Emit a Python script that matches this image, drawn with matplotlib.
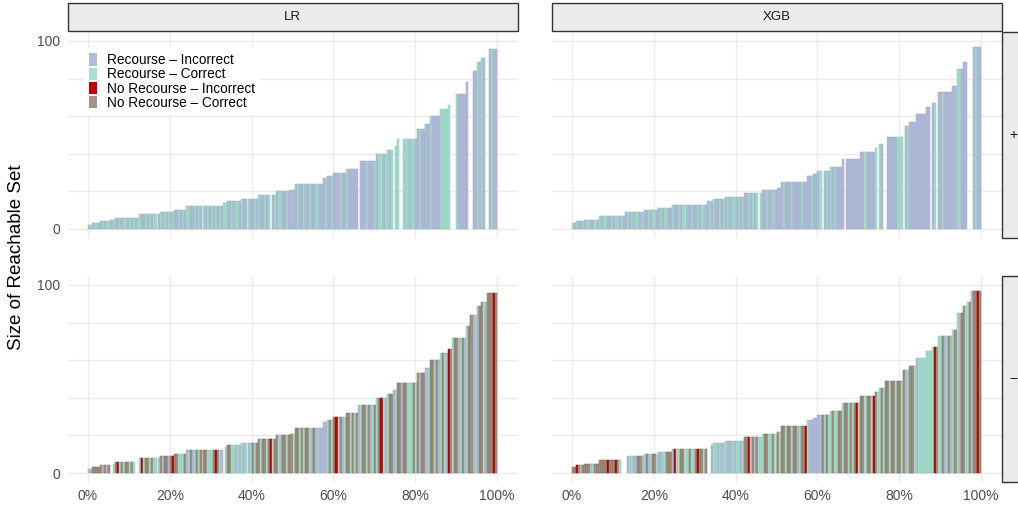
import numpy as np
import matplotlib.pyplot as plt
from matplotlib.patches import Patch, Rectangle

plt.rcParams['font.family'] = ['Liberation Sans', 'DejaVu Sans']

models = ["LR", "XGB"]
rows = ["+", "\u2212"]

# sorted reachable-set size: each step holds its size up to step_end (% of points)
lr_step_end = [1.0, 2.9, 5.6, 6.6, 12.7, 17.6, 20.8, 24.2, 33.0, 34.2, 37.7, 41.6,
               46.2, 49.4, 50.6, 57.5, 58.7, 59.9, 62.8, 65.8, 70.4, 73.1, 74.6,
               75.6, 80.4, 82.4, 83.6, 86.1, 87.8, 88.8, 92.7, 93.6, 95.1, 96.1,
               97.4, 100.0]
lr_step_size = [2, 3, 4, 5, 6, 8, 9, 10, 12, 14, 15, 16, 18, 20, 21, 24, 27, 28, 30,
                32, 36, 40, 42, 44, 48, 53, 56, 60, 64, 66, 72, 78, 84, 89, 91, 96]
xgb_step_end = [1.0, 3.0, 6.3, 12.8, 17.7, 21.0, 24.5, 33.2, 34.6, 37.7, 41.8, 46.3,
                49.8, 50.8, 57.7, 59.1, 60.2, 63.0, 65.9, 70.4, 74.0, 74.9, 76.5,
                81.0, 82.6, 84.1, 86.7, 87.9, 89.3, 92.8, 93.9, 95.3, 96.3, 97.5,
                100.0]
xgb_step_size = [3, 4, 5, 7, 9, 10, 11, 13, 15, 16, 17, 19, 21, 22, 25, 28, 29, 31,
                 33, 37, 41, 43, 45, 49, 55, 57, 61, 65, 67, 73, 76, 85, 89, 91, 97]

# one character per 0.5% slot
# i = Recourse-Incorrect, c = Recourse-Correct, r = No Recourse-Incorrect,
# n = No Recourse-Correct, . = no point
lr_pos = ("icicciicicciciicicci" "cicicciiciciccicicic" "iciicicicciicicicici"
          "cicicicciicicciciici" "iciciicic.icicciicii" "iiciiciiciicciiiciic"
          "iiiciiciiiii.iiiciii" "cicciccic.cc..cccicc" "iiciiiiciiiiccccc..."
          "ciiiii..iicici..icii")
lr_neg = ("iinnnnninin.cnrcncnn" "cnc..crcnncncccninni" "nrnncccnicnicncnnncc"
          "cnrnci.cnnccicicicic" "ncnncnncnrcnncinncnn" "cnncncnnciniciiiicnc"
          "nrcnicnncncnicnncnic" "ncnrcicnnicnninncccn" "cninnicnncnicncirncn"
          "nicnicnnicinncinnnrn")
xgb_pos = ("ciciicicciicicicciic" "icciciicicicciciicic" "ciicicciiciicicciici"
           "icicciiciciicicicicc" "iciciicicic.ciiciici" "iiiciiiciiiiciiiicii"
           "ic.iciciciiii.iiiiii" "iiiciiiic.ci..iiiiic" "cc.iciiiiiiiiii.ic.i"
           "iciiiiiicciii...icii")
xgb_neg = ("nnrninnnnicnnnnnnrnn" "nrnc...icciinnicnicn" "nciiccnnnirccnnccncc"
           "nrnncn..iccicicciici" "ccicnnrcnincccnnccnc" "ncnncnncnnicnnrciiii"
           "iincnccnccnncnncncnr" "cnncnncrnccncnncnncn" "ncnicnnciccccccccrnc"
           "cnicnicncinnccninnrn")

labels = {"i": "Recourse \u2013 Incorrect", "c": "Recourse \u2013 Correct",
          "r": "No Recourse \u2013 Incorrect", "n": "No Recourse \u2013 Correct"}
fills = {"i": "#B3BBD9", "c": "#A8E0D0", "r": "#C00000", "n": "#A59283"}
edges = {"i": "#A2ABCC", "c": "#8CC6B4", "r": "#A80000", "n": "#7E6A56"}

curves = {"LR": (lr_step_end, lr_step_size), "XGB": (xgb_step_end, xgb_step_size)}
cats = {("LR", 0): lr_pos, ("LR", 1): lr_neg, ("XGB", 0): xgb_pos, ("XGB", 1): xgb_neg}

W, H = 1018, 505
fig = plt.figure(figsize=(W / 100, H / 100), dpi=100)

px_left = [67.5, 551.5]
px_top = [31.6, 275.6]
pw, ph = 450, 206.8

for ci, m in enumerate(models):
    ends, sizes = curves[m]
    for ri in range(2):
        ax = fig.add_axes([px_left[ci] / W, 1 - (px_top[ri] + ph) / H, pw / W, ph / H])
        s = cats[(m, ri)]
        n = len(s)
        step = 100.0 / n
        for k, ch in enumerate(s):
            if ch == ".":
                continue
            xc = (k + 0.5) * step
            h = sizes[min(np.searchsorted(ends, xc), len(sizes) - 1)]
            ax.bar(xc, h, width=step, color=fills[ch], edgecolor=edges[ch],
                   linewidth=0.35, zorder=2)
        ax.set_xlim(-5, 105)
        ax.set_ylim(-5, 105)
        ax.set_xticks([0, 20, 40, 60, 80, 100])
        ax.set_yticks([0, 20, 40, 60, 80, 100])
        ax.grid(True, color="#EBEBEB", linewidth=1.0, zorder=0)
        ax.set_axisbelow(True)
        for sp in ax.spines.values():
            sp.set_visible(False)
        ax.tick_params(length=0, labelsize=10, labelcolor="#4D4D4D", pad=5)
        ax.set_yticklabels(["0", "", "", "", "", "100"])
        ax.set_xticklabels([f"{t}%" for t in [0, 20, 40, 60, 80, 100]])
        if ri == 0:
            ax.tick_params(labelbottom=False)
        if ci == 1:
            ax.tick_params(labelleft=False)
        if ci == 0 and ri == 0:
            handles = [Patch(facecolor=fills[k], edgecolor="none", label=labels[k])
                       for k in "icrn"]
            leg = ax.legend(handles=handles, loc="upper left", bbox_to_anchor=(0.02, 0.955),
                            fontsize=9.8, handlelength=0.62, handleheight=1.0,
                            labelspacing=0.02, handletextpad=0.7, borderpad=0.4,
                            frameon=True, fancybox=False)
            leg.get_frame().set_facecolor("white")
            leg.get_frame().set_edgecolor("none")
            leg.get_frame().set_alpha(1)

# column strips
for ci, m in enumerate(models):
    fig.patches.append(Rectangle((px_left[ci] / W, 1 - 31 / H), pw / W, 28 / H,
                                 transform=fig.transFigure, facecolor="#EBEBEB",
                                 edgecolor="#333333", linewidth=1.0))
    fig.text((px_left[ci] + pw / 2) / W, 1 - 17 / H, m, ha="center", va="center",
             fontsize=9.5, color="#1A1A1A")

# row strips (cut by the figure edge)
for ri, r in enumerate(rows):
    fig.patches.append(Rectangle((1002 / W, 1 - (px_top[ri] + ph) / H), 30 / W, ph / H,
                                 transform=fig.transFigure, facecolor="#EBEBEB",
                                 edgecolor="#333333", linewidth=1.0))
    fig.text(1013 / W, 1 - (px_top[ri] + ph / 2) / H, r, ha="center", va="center",
             fontsize=10, color="#1A1A1A")

fig.text(17 / W, 1 - 257 / H, "Size of Reachable Set", rotation=90, ha="center",
         va="center", fontsize=13.5, color="black")

fig.savefig("out.png", dpi=100)
